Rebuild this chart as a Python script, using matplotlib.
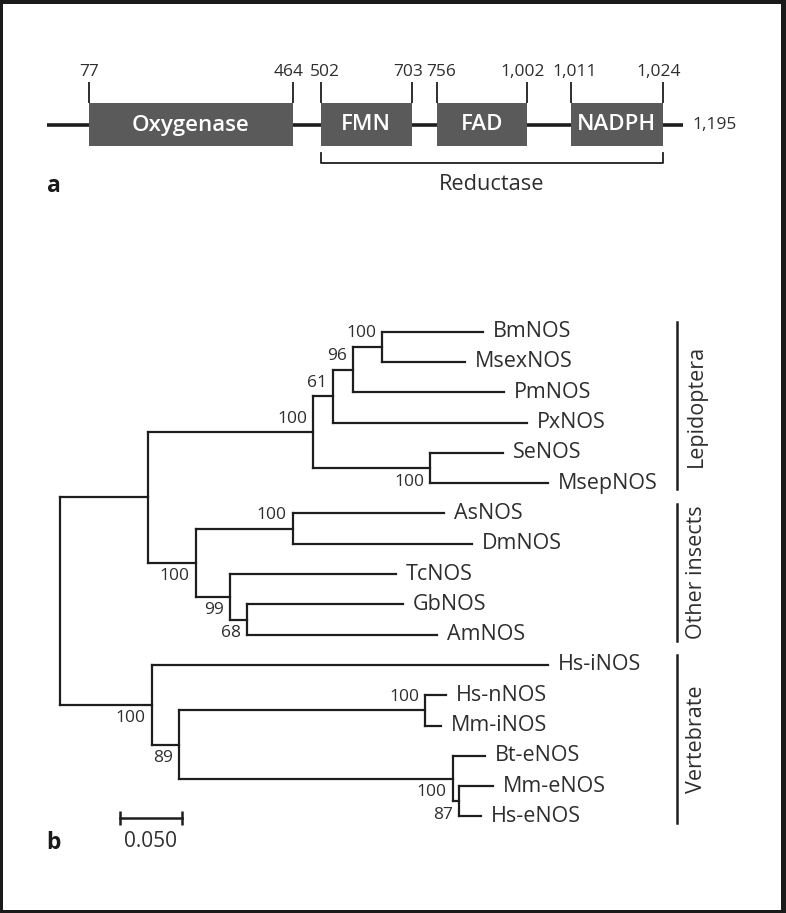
import numpy as np
import matplotlib.pyplot as plt
from matplotlib.patches import Rectangle

plt.rcParams['font.family'] = ['Open Sans', 'DejaVu Sans']

# ---- panel a: domain structure ----
PROTEIN_LEN = 1195
DOMAINS = ['Oxygenase', 'FMN', 'FAD', 'NADPH']
DOM_START = [77, 502, 756, 1011]
DOM_END = [464, 703, 1002, 1024]
REDUCTASE = (502, 1024)

# ---- panel b: NOS tree (preorder) ----
NODE = ['root', 'ins', 'lep', 'n61', 'n96', 'n100a', 'BmNOS', 'MsexNOS', 'PmNOS', 'PxNOS',
        'n100b', 'SeNOS', 'MsepNOS', 'oth', 'n100c', 'AsNOS', 'DmNOS', 'n99', 'TcNOS', 'n68',
        'GbNOS', 'AmNOS', 'vert', 'Hs-iNOS', 'n89', 'n100d', 'Hs-nNOS', 'Mm-iNOS', 'n100e',
        'Bt-eNOS', 'n87', 'Mm-eNOS', 'Hs-eNOS']
PARENT = ['', 'root', 'ins', 'lep', 'n61', 'n96', 'n100a', 'n100a', 'n96', 'n61',
          'lep', 'n100b', 'n100b', 'ins', 'oth', 'n100c', 'n100c', 'oth', 'n99', 'n99',
          'n68', 'n68', 'root', 'vert', 'vert', 'n89', 'n100d', 'n100d', 'n89',
          'n100e', 'n100e', 'n87', 'n87']
BRANCH = [0, 0.0715, 0.1344, 0.0158, 0.0165, 0.0238, 0.0821, 0.0672, 0.1228, 0.1577,
          0.0949, 0.0591, 0.0957, 0.0388, 0.0789, 0.1233, 0.1455, 0.0281, 0.1345, 0.0138,
          0.1263, 0.1540, 0.0744, 0.3220, 0.0224, 0.2000, 0.0171, 0.0130, 0.2224,
          0.0264, 0.0053, 0.0272, 0.0179]
SUPPORT = {'lep': 100, 'n61': 61, 'n96': 96, 'n100a': 100, 'n100b': 100, 'oth': 100,
           'n100c': 100, 'n99': 99, 'n68': 68, 'vert': 100, 'n89': 89, 'n100d': 100,
           'n100e': 100, 'n87': 87}
CLADES = ['Lepidoptera', 'Other insects', 'Vertebrate']
CLADE_FIRST = ['BmNOS', 'AsNOS', 'Hs-iNOS']
CLADE_LAST = ['MsepNOS', 'AmNOS', 'Hs-eNOS']
SCALE_LEN = 0.05

# which side of the node each support value sits on
ABOVE = {'lep', 'n61', 'n96', 'n100a', 'n100c', 'n100d'}

LINE = '#1e1e1e'
TEXT = '#2e2e2e'
BOX = '#5a5a5a'

fig = plt.figure(figsize=(7.86, 9.13), dpi=100)
fig.patch.set_facecolor('#1a1a1a')
fig.add_artist(Rectangle((3 / 786, 3 / 913), 778 / 786, 906 / 913, transform=fig.transFigure,
                         facecolor='white', edgecolor='none', zorder=-5))

# ---------- panel a ----------
res_anchor = [1, 77, 464, 502, 703, 756, 1002, 1011, 1024, 1195]
pos_anchor = [47, 89, 292.5, 320.5, 412, 437, 527, 571, 662.5, 683]
fwd = lambda r: np.interp(r, res_anchor, pos_anchor)
inv = lambda p: np.interp(p, pos_anchor, res_anchor)

ax_a = fig.add_axes([47 / 786, 1 - 200 / 913, 636 / 786, 160 / 913])
ax_a.set_xscale('function', functions=(fwd, inv))
ax_a.set_xlim(1, PROTEIN_LEN)
ax_a.set_ylim(200, 40)
ax_a.axis('off')

ax_a.plot([1, PROTEIN_LEN], [125, 125], color=LINE, lw=2.6, zorder=1, solid_capstyle='butt')
for name, s, e in zip(DOMAINS, DOM_START, DOM_END):
    ax_a.bar(s, 43, width=e - s, bottom=103, align='edge', color=BOX, zorder=2)
    ax_a.vlines([s, e], 82, 103, color=LINE, lw=1.3, zorder=3)
    mid = inv((fwd(s) + fwd(e)) / 2)
    ax_a.text(mid, 125, name, color='white', fontsize=16, fontweight='semibold',
              ha='center', va='center', zorder=4)
    ax_a.annotate(str(s) if s < 1000 else f'{s:,}', (s, 72), xytext=(4 if s > 77 else 0, 0),
                  textcoords='offset pixels', ha='center', va='center', fontsize=12.5, color=TEXT)
    ax_a.annotate(str(e) if e < 1000 else f'{e:,}', (e, 72), xytext=(-4, 0),
                  textcoords='offset pixels', ha='center', va='center', fontsize=12.5, color=TEXT)
ax_a.annotate(f'{PROTEIN_LEN:,}', (PROTEIN_LEN, 125), xytext=(9, 0), textcoords='offset pixels',
              ha='left', va='center', fontsize=12.5, color=TEXT)

r0, r1 = REDUCTASE
ax_a.plot([r0, r0, r1, r1], [153, 163, 163, 153], color=LINE, lw=1.3)
ax_a.text(inv((fwd(r0) + fwd(r1)) / 2), 184, 'Reductase', ha='center', va='center',
          fontsize=15.7, color=TEXT)

# ---------- panel b ----------
ax_b = fig.add_axes([0, 0, 1, 1])
ax_b.set_xlim(-60 / 1230, 726 / 1230)
ax_b.set_ylim(19.185, -10.947)
ax_b.axis('off')

children = {n: [] for n in NODE}
for n, p in zip(NODE, PARENT):
    if p:
        children[p].append(n)

x = {}
for n, p, b in zip(NODE, PARENT, BRANCH):
    x[n] = (x[p] if p else 0.0) + b

y = {}
leaf_i = 0
for n in NODE:
    if not children[n]:
        y[n] = leaf_i
        leaf_i += 1
for n in reversed(NODE):
    if children[n]:
        y[n] = (y[children[n][0]] + y[children[n][-1]]) / 2

lw = 1.6
for n, p in zip(NODE, PARENT):
    if p:
        ax_b.plot([x[p], x[n]], [y[n], y[n]], color=LINE, lw=lw, solid_capstyle='projecting')
    if children[n]:
        kids = children[n]
        ax_b.plot([x[n], x[n]], [y[kids[0]], y[kids[-1]]], color=LINE, lw=lw,
                  solid_capstyle='projecting')
    else:
        ax_b.annotate(n, (x[n], y[n]), xytext=(10, 0), textcoords='offset pixels',
                      ha='left', va='center', fontsize=15.5, color=TEXT)

for n, v in SUPPORT.items():
    dy = 13.5 if n in ABOVE else -13.5
    ax_b.annotate(str(v), (x[n], y[n]), xytext=(-6, dy), textcoords='offset pixels',
                  ha='right', va='center', fontsize=12.5, color=TEXT)

bar_x = 0.5014
for name, a, b in zip(CLADES, CLADE_FIRST, CLADE_LAST):
    y0, y1 = y[a] - 0.32, y[b] + 0.2
    ax_b.plot([bar_x, bar_x], [y0, y1], color=LINE, lw=1.8)
    ax_b.annotate(name, (bar_x, (y0 + y1) / 2), xytext=(20, 0), textcoords='offset pixels',
                  rotation=90, ha='center', va='center', fontsize=15.5, color=TEXT)

sb_x0 = 60 / 1230
sb_y = 16.05
ax_b.plot([sb_x0, sb_x0 + SCALE_LEN], [sb_y, sb_y], color=LINE, lw=1.8, marker='|',
          markersize=9.5, markeredgewidth=1.8)
ax_b.annotate(f'{SCALE_LEN:.3f}', (sb_x0 + SCALE_LEN / 2, sb_y), xytext=(0, -23),
              textcoords='offset pixels', ha='center', va='center', fontsize=15, color=TEXT)

fig.text(47 / 786, 1 - 191.5 / 913, 'a', fontsize=16.5, fontweight='bold', color='#1a1a1a',
         ha='left', va='baseline')
fig.text(46 / 786, 1 - 848.5 / 913, 'b', fontsize=16.5, fontweight='bold', color='#1a1a1a',
         ha='left', va='baseline')

fig.savefig('out.png', dpi=100)
